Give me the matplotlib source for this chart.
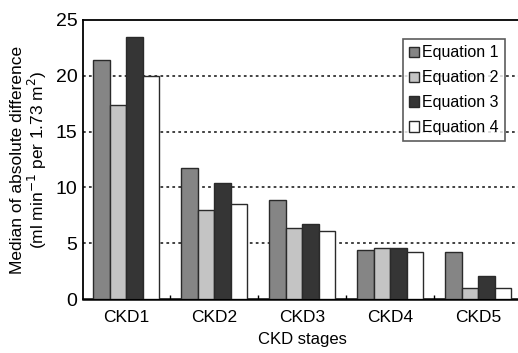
import numpy as np
import matplotlib
matplotlib.use("Agg")
import matplotlib.pyplot as plt

plt.rcParams['font.family'] = ['Liberation Sans', 'DejaVu Sans']

# data
stages = ["CKD1", "CKD2", "CKD3", "CKD4", "CKD5"]
eq1 = [21.4, 11.7, 8.9, 4.4, 4.2]
eq2 = [17.4, 8.0, 6.4, 4.6, 1.0]
eq3 = [23.5, 10.4, 6.7, 4.6, 2.1]
eq4 = [20.0, 8.5, 6.1, 4.25, 1.0]
series = [("Equation 1", eq1, "#858585"),
          ("Equation 2", eq2, "#c4c4c4"),
          ("Equation 3", eq3, "#353535"),
          ("Equation 4", eq4, "#ffffff")]

fig = plt.figure(figsize=(5.18, 3.53), dpi=100)
ax = fig.add_axes([83/518, 1 - 299/353, 439/518, 279/353])

x = np.arange(len(stages))
w = 0.1875
for j, (name, vals, col) in enumerate(series):
    ax.bar(x + (j - 1.5) * w, vals, width=w, color=col, edgecolor="#2a2a2a",
           linewidth=1.0, label=name, zorder=3)

# dotted gridlines
for yv in [5, 10, 15, 20]:
    ax.axhline(yv, color="#333333", linestyle=(0, (1.5, 1.8)), linewidth=1.3, zorder=1)

ax.set_xlim(-0.49, 4.5)
ax.set_ylim(0, 25)
ax.set_yticks([0, 5, 10, 15, 20, 25])
ax.set_xticks(x)
ax.set_xticklabels(stages, fontsize=12.5)
ax.set_xticks(np.arange(len(stages) - 1) + 0.5, minor=True)
ax.tick_params(axis="x", which="major", length=0, pad=8)
ax.tick_params(axis="x", which="minor", length=3, direction="in", width=1)
ax.tick_params(axis="y", length=0, labelsize=14, pad=4)

for s in ["top", "left"]:
    ax.spines[s].set_linewidth(1.3)
ax.spines["bottom"].set_linewidth(1.8)
ax.spines["right"].set_visible(False)

ax.set_xlabel("CKD stages", fontsize=12, labelpad=5)
ax.set_ylabel("Median of absolute difference\n(ml min$^{-1}$ per 1.73 m$^{2}$)",
              fontsize=12.5, linespacing=1.05, labelpad=5)

leg = ax.legend(loc="upper right", bbox_to_anchor=(0.961, 0.932), borderaxespad=0,
                fontsize=11.5, frameon=True, fancybox=False, handlelength=0.6,
                handleheight=0.6, handletextpad=0.2, labelspacing=0.62,
                borderpad=0.4)
leg.get_frame().set_edgecolor("#333333")
leg.get_frame().set_linewidth(1.2)

fig.savefig("out.png", dpi=100)
